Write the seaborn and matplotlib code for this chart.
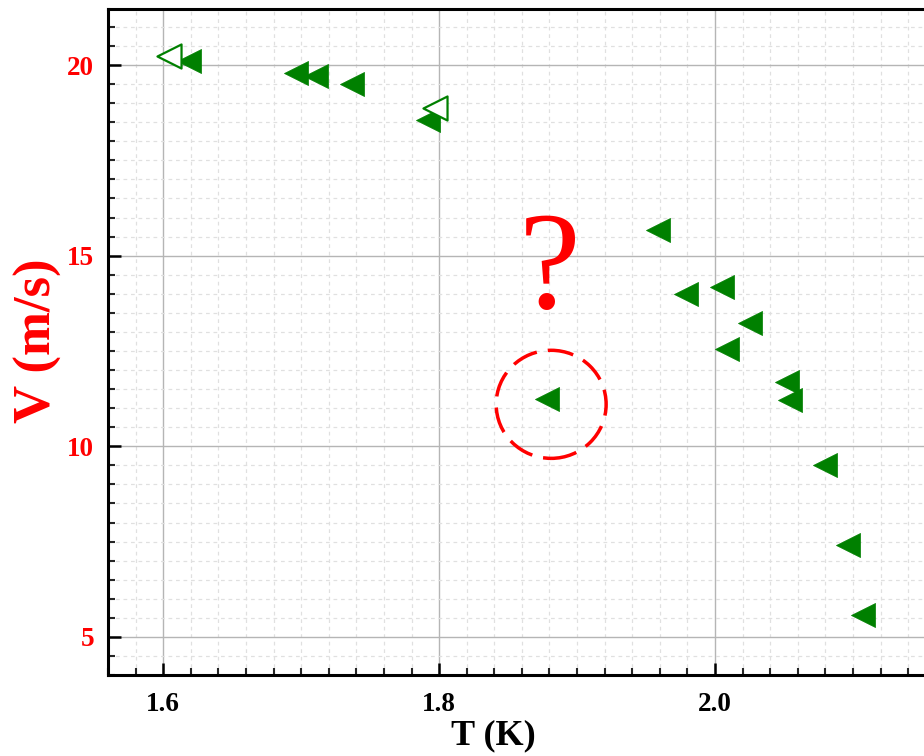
import matplotlib
matplotlib.use("Agg")
import matplotlib.pyplot as plt
import seaborn as sns
import pandas as pd
from matplotlib.patches import Ellipse
from matplotlib.ticker import MultipleLocator

# ---- data ----
T_filled = [1.619, 1.696, 1.711, 1.737, 1.792, 1.878, 1.959, 1.979, 2.005,
            2.009, 2.025, 2.052, 2.054, 2.080, 2.096, 2.107]
V_filled = [20.10, 19.79, 19.71, 19.50, 18.56, 11.23, 15.67, 14.00, 14.19,
            12.55, 13.24, 11.68, 11.22, 9.51, 7.42, 5.58]
T_hollow = [1.604, 1.797]
V_hollow = [20.25, 18.88]
x_ticks = [1.6, 1.8, 2.0]
y_ticks = [5, 10, 15, 20]
x_label = "T (K)"
y_label = "V (m/s)"
question_text = "?"
circle_center = (1.8812, 11.10)

sns.set_style("white")
plt.rcParams["font.family"] = ["Liberation Serif", "DejaVu Serif"]

fig = plt.figure(figsize=(9.24, 7.56), dpi=100)
ax = fig.add_axes([108 / 924, 81 / 756, 883 / 924, 666 / 756])

df_f = pd.DataFrame({"T": T_filled, "V": V_filled})
df_h = pd.DataFrame({"T": T_hollow, "V": V_hollow})

sns.scatterplot(data=df_f, x="T", y="V", marker="<", s=300, color="green",
                edgecolor="green", linewidth=0.5, ax=ax, zorder=3, legend=False)
sns.scatterplot(data=df_h, x="T", y="V", marker="<", s=300, facecolor="white",
                edgecolor="green", linewidth=1.6, ax=ax, zorder=4, legend=False)

ax.set_xlim(1.56, 2.2)
ax.set_ylim(4.0, 21.47)
ax.set_xticks(x_ticks)
ax.set_yticks(y_ticks)
ax.set_xticklabels([f"{v:.1f}" for v in x_ticks])
ax.set_yticklabels([str(v) for v in y_ticks])
ax.xaxis.set_minor_locator(MultipleLocator(0.02))
ax.yaxis.set_minor_locator(MultipleLocator(0.5))

ax.grid(which="major", color="#b5b5b5", linewidth=1.0, linestyle="-", zorder=0)
ax.grid(which="minor", color="#e0e0e0", linewidth=0.9, linestyle=(0, (3, 3)), zorder=0)
ax.set_axisbelow(True)

for side in ["left", "bottom", "top"]:
    ax.spines[side].set_visible(True)
    ax.spines[side].set_linewidth(2.2)
    ax.spines[side].set_color("black")
ax.spines["right"].set_visible(False)

ax.tick_params(axis="both", which="major", direction="in", length=9, width=1.8,
               colors="black", top=False, right=False, left=True, bottom=True)
ax.tick_params(axis="both", which="minor", direction="in", length=5, width=1.5,
               top=False, right=False, left=True, bottom=True)
ax.tick_params(axis="x", which="major", pad=12, labelsize=19.5)
ax.tick_params(axis="y", which="major", pad=10, labelsize=19.5, labelcolor="red")
for lab in ax.get_xticklabels() + ax.get_yticklabels():
    lab.set_fontweight("bold")

ax.set_xlabel(x_label, fontsize=26, fontweight="bold", color="black")
ax.set_ylabel(y_label, fontsize=38, fontweight="bold", color="red")
ax.xaxis.set_label_coords(0.436, -0.066)
ax.yaxis.set_label_coords(-0.052, 0.5015)

ax.text(1.8804, 13.62, question_text, fontsize=100, color="red",
        ha="center", va="baseline", zorder=5)

circ = Ellipse(circle_center, width=0.0797, height=2.835, fill=False,
               edgecolor="red", linewidth=2.5, linestyle=(0, (7.5, 3.2)), zorder=5)
ax.add_patch(circ)

fig.savefig("out.png", dpi=100)
